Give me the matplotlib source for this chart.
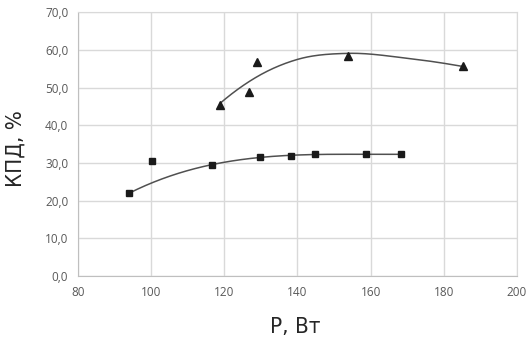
import numpy as np
import matplotlib
matplotlib.use("Agg")
import matplotlib.pyplot as plt
from matplotlib.ticker import FuncFormatter

# Measured points: efficiency vs power
p_square = [94.0, 100.1, 116.5, 129.8, 138.2, 144.7, 158.7, 168.3]
eff_square = [22.0, 30.4, 29.5, 31.6, 31.9, 32.3, 32.3, 32.3]
square_fit_idx = [0, 2, 3, 4, 5, 6, 7]   # points used for the trend line

p_tri = [118.8, 126.7, 129.0, 153.7, 185.3]
eff_tri = [45.5, 48.8, 56.7, 58.5, 55.8]

# Approximating curve for the triangle series (drawn as a smoothed line)
p_tri_trend = [118.8, 129.3, 140.0, 153.5, 170.0, 185.3]
eff_tri_trend = [45.8, 53.1, 57.5, 59.1, 57.8, 55.6]

x_ticks = [80, 100, 120, 140, 160, 180, 200]
y_ticks = [0, 10, 20, 30, 40, 50, 60, 70]


def smooth_curve(xs, ys, n=40):
    """Piecewise cubic Hermite curve with three-point derivative estimates."""
    x = np.asarray(xs, float)
    y = np.asarray(ys, float)
    h = np.diff(x)
    d = np.diff(y) / h
    m = np.empty_like(x)
    m[1:-1] = (h[:-1] * d[1:] + h[1:] * d[:-1]) / (h[:-1] + h[1:])
    m[0] = ((2 * h[0] + h[1]) * d[0] - h[0] * d[1]) / (h[0] + h[1])
    m[-1] = ((2 * h[-1] + h[-2]) * d[-1] - h[-1] * d[-2]) / (h[-1] + h[-2])
    out_x, out_y = [x[0]], [y[0]]
    for i in range(len(x) - 1):
        t = np.linspace(0, 1, n)[1:]
        h00 = 2 * t ** 3 - 3 * t ** 2 + 1
        h10 = t ** 3 - 2 * t ** 2 + t
        h01 = -2 * t ** 3 + 3 * t ** 2
        h11 = t ** 3 - t ** 2
        out_x.extend(x[i] + t * h[i])
        out_y.extend(h00 * y[i] + h10 * h[i] * m[i] + h01 * y[i + 1] + h11 * h[i] * m[i + 1])
    return np.array(out_x), np.array(out_y)


fig = plt.figure(figsize=(5.27, 3.42), dpi=100)
ax = fig.add_axes([0.148, 0.193, 0.833, 0.771])

grid_c = "#d9d9d9"
ax.set_xlim(80, 200)
ax.set_ylim(0, 70)
ax.set_xticks(x_ticks)
ax.set_yticks(y_ticks)
ax.grid(True, color=grid_c, linewidth=1.0)
ax.set_axisbelow(True)
for s in ax.spines.values():
    s.set_color(grid_c)
ax.spines["left"].set_color("#bfbfbf")
ax.spines["bottom"].set_color("#bfbfbf")
ax.tick_params(length=0, pad=7, labelsize=8.5, labelcolor="#595959")
ax.yaxis.set_major_formatter(FuncFormatter(lambda v, _: f"{v:.1f}".replace(".", ",")))
for lab in ax.get_xticklabels() + ax.get_yticklabels():
    lab.set_family(["Open Sans", "DejaVu Sans"])

line_c = "#505050"
# 3rd-order polynomial trend for the square series
xs_fit = np.array([p_square[i] for i in square_fit_idx])
ys_fit = np.array([eff_square[i] for i in square_fit_idx])
cs = np.polyfit(xs_fit, ys_fit, 3)
xs = np.linspace(xs_fit.min(), xs_fit.max(), 200)
ax.plot(xs, np.polyval(cs, xs), color=line_c, linewidth=1.1, zorder=2)

tx, ty = smooth_curve(p_tri_trend, eff_tri_trend)
ax.plot(tx, ty, color=line_c, linewidth=1.1, zorder=2)

ax.plot(p_square, eff_square, linestyle="none", marker="s", markersize=4.6,
        color="#1a1a1a", zorder=3)
ax.plot(p_tri, eff_tri, linestyle="none", marker="^", markersize=6.3,
        color="#1a1a1a", zorder=3)

label_kw = dict(fontsize=16, color="#262626", family=["DejaVu Sans"],
                fontstretch="condensed")
ax.set_xlabel("P, Вт", **label_kw)
ax.set_ylabel("КПД, %", **label_kw)
ax.yaxis.label.set_va("center")
ax.xaxis.set_label_coords(0.495, -0.155)
ax.yaxis.set_label_coords(-0.141, 0.485)

fig.savefig("out.png", dpi=100)
